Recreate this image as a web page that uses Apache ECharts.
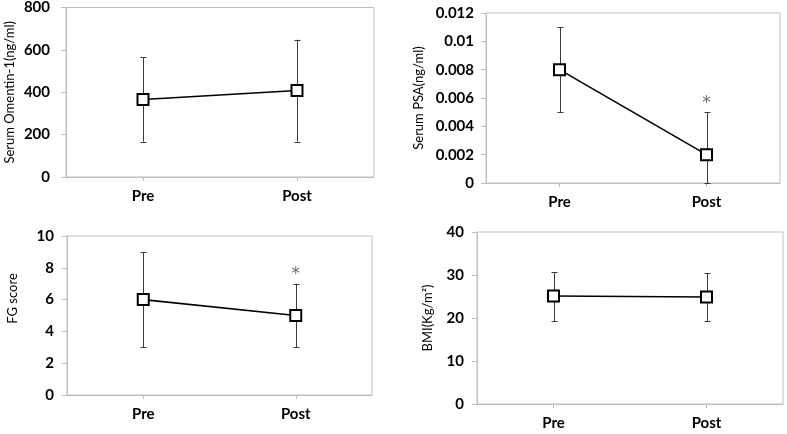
<!DOCTYPE html>
<html>
<head>
<meta charset="utf-8">
<script src="https://cdn.jsdelivr.net/npm/echarts@6/dist/echarts.min.js"></script>
<style>
html,body{margin:0;padding:0;background:#fff;}
#c{width:787px;height:434px;}
</style>
</head>
<body>
<div id="c"></div>
<script>
// ---- data ----
var categories = ['Pre', 'Post'];

var omentinMean = [366, 408];
var omentinLow  = [167, 167];
var omentinHigh = [566, 648];
var omentinStar = [null, null];

var psaMean = [0.008, 0.002];
var psaLow  = [0.005, 0];
var psaHigh = [0.011, 0.005];
var psaStar = [null, 0.005];

var fgMean = [6, 5];
var fgLow  = [3, 3];
var fgHigh = [9, 7];
var fgStar = [null, 7];

var bmiMean = [25.1, 24.9];
var bmiLow  = [19.3, 19.3];
var bmiHigh = [30.6, 30.4];
var bmiStar = [null, null];

var omentinTicks = {min: 0, max: 800, interval: 200};
var psaTicks = {min: 0, max: 0.012, interval: 0.002};
var fgTicks = {min: 0, max: 10, interval: 2};
var bmiTicks = {min: 0, max: 40, interval: 10};

// ---- layout ----
var panels = [
  {name: 'Serum Omentin-1(ng/ml)', mean: omentinMean, low: omentinLow, high: omentinHigh, star: omentinStar, ticks: omentinTicks,
   grid: {left: 66, top: 7, width: 308, height: 170}, nameGap: 50, labelMargin: 16, namePad: [0, 0, 0, 0]},
  {name: 'Serum PSA(ng/ml)', mean: psaMean, low: psaLow, high: psaHigh, star: psaStar, ticks: psaTicks,
   grid: {left: 486, top: 13, width: 294, height: 170}, nameGap: 61, labelMargin: 12, namePad: [0, 0, 0, 0]},
  {name: 'FG score', mean: fgMean, low: fgLow, high: fgHigh, star: fgStar, ticks: fgTicks,
   grid: {left: 67, top: 236, width: 305, height: 159}, nameGap: 48, labelMargin: 13, namePad: [0, 0, 0, 34]},
  {name: 'BMI(Kg/m\u00B2)', mean: bmiMean, low: bmiLow, high: bmiHigh, star: bmiStar, ticks: bmiTicks,
   grid: {left: 477, top: 232, width: 306, height: 172}, nameGap: 43, labelMargin: 13, namePad: [0, 0, 0, 0]}
];

var FONT = 'Lato';
var frameColor = '#bfbfbf';
var grids = [], xAxes = [], yAxes = [], series = [];

panels.forEach(function (p, i) {
  grids.push(Object.assign({show: true, borderColor: frameColor, borderWidth: 1, backgroundColor: 'transparent', containLabel: false}, p.grid));
  xAxes.push({
    type: 'category', gridIndex: i, data: categories, boundaryGap: true,
    axisLine: {lineStyle: {color: frameColor, width: 1}},
    axisTick: {show: true, alignWithLabel: true, length: 4, lineStyle: {color: frameColor}},
    axisLabel: {color: '#000', fontFamily: FONT, fontSize: 15, fontWeight: 'bold', margin: 12},
    splitLine: {show: false}
  });
  yAxes.push({
    type: 'value', gridIndex: i, min: p.ticks.min, max: p.ticks.max, interval: p.ticks.interval,
    name: p.name, nameLocation: 'middle', nameGap: p.nameGap,
    nameTextStyle: {color: '#000', fontFamily: FONT, fontSize: 13, padding: p.namePad},
    axisLine: {show: true, lineStyle: {color: frameColor, width: 1}},
    axisTick: {show: true, length: 5, lineStyle: {color: frameColor}},
    axisLabel: {color: '#000', fontFamily: FONT, fontSize: 15, fontWeight: 'bold', margin: p.labelMargin},
    splitLine: {show: false}
  });
  // error bars
  series.push({
    type: 'custom', xAxisIndex: i, yAxisIndex: i, z: 2,
    data: categories.map(function (c, k) { return [k, p.low[k], p.high[k]]; }),
    renderItem: function (params, api) {
      var lo = api.coord([api.value(0), api.value(1)]);
      var hi = api.coord([api.value(0), api.value(2)]);
      var x = Math.round(lo[0]) + 0.5;
      var w = 3;
      var st = {stroke: '#3a3a3a', lineWidth: 1};
      return {type: 'group', children: [
        {type: 'line', shape: {x1: x, y1: lo[1], x2: x, y2: hi[1]}, style: st},
        {type: 'line', shape: {x1: x - w, y1: Math.round(hi[1]) + 0.5, x2: x + w, y2: Math.round(hi[1]) + 0.5}, style: st},
        {type: 'line', shape: {x1: x - w, y1: Math.round(lo[1]) + 0.5, x2: x + w, y2: Math.round(lo[1]) + 0.5}, style: st}
      ]};
    },
    silent: true
  });
  // mean line + markers
  series.push({
    type: 'line', xAxisIndex: i, yAxisIndex: i, z: 3, data: p.mean,
    symbol: 'rect', symbolSize: 11,
    lineStyle: {color: '#000', width: 1.6},
    itemStyle: {color: '#fff', borderColor: '#000', borderWidth: 2},
    silent: true, animation: false
  });
  // significance stars
  series.push({
    type: 'scatter', xAxisIndex: i, yAxisIndex: i, z: 4,
    data: p.star.map(function (v, k) { return v === null ? null : [k, v]; }).filter(function (d) { return d; }),
    symbol: 'circle', symbolSize: 1,
    itemStyle: {color: 'rgba(0,0,0,0)'},
    label: {show: true, position: 'top', distance: 0, formatter: '*', color: '#444', fontFamily: 'DejaVu Sans', fontSize: 17},
    silent: true
  });
});

var chart = echarts.init(document.getElementById('c'), null, {renderer: 'canvas'});
chart.setOption({
  animation: false,
  backgroundColor: '#fff',
  grid: grids, xAxis: xAxes, yAxis: yAxes, series: series
});
</script>
</body>
</html>
